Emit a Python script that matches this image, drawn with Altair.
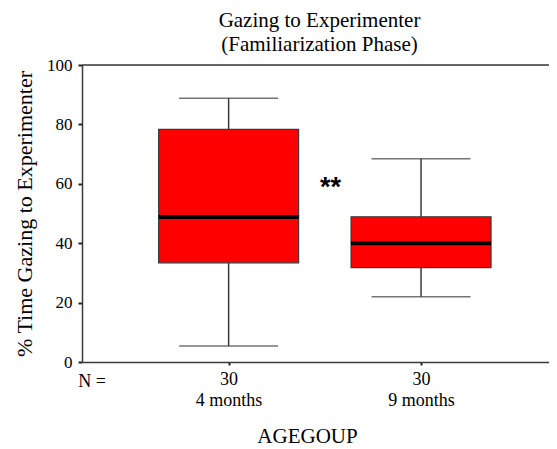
import altair as alt
import pandas as pd

# ---- data ----
groups = ["4 months", "9 months"]
group_pos = [1, 2]
n_counts = [30, 30]
mins = [5.4, 22.0]
q1s = [33.4, 31.8]
medians = [48.8, 40.0]
q3s = [78.3, 48.9]
maxs = [88.8, 68.4]
y_ticks = [0, 20, 40, 60, 80, 100]

sig_label = ["**"]
sig_x = [1.53]
sig_y = [56]
n_label = ["N ="]
n_x = [0.29]
n_y = [-6.7]

df = pd.DataFrame({
    "group": groups, "pos": group_pos, "n": n_counts,
    "lo": mins, "q1": q1s, "med": medians, "q3": q3s, "hi": maxs,
})
top_df = pd.DataFrame({"top": [y_ticks[-1]]})
sig_df = pd.DataFrame({"x": sig_x, "y": sig_y, "t": sig_label})
n_df = pd.DataFrame({"x": n_x, "y": n_y, "t": n_label})

SERIF = "Liberation Serif"
LINE = "#3a3a3a"
X_DOMAIN = [0.264, 2.639]

xs = alt.Scale(domain=X_DOMAIN, nice=False, zero=False)
ys = alt.Scale(domain=[0, 100], nice=False, zero=False)

lab_arr = "[" + ",".join(
    "['%d','%s']" % (n, g) for n, g in zip(n_counts, groups)
) + "]"
label_expr = lab_arr + "[datum.value - 1]"

x_axis = alt.Axis(
    values=group_pos, labelExpr=label_expr, labelLineHeight=21,
    labelFont=SERIF, labelFontSize=18, labelColor="black", labelPadding=5,
    tickSize=3, tickWidth=2, tickColor="#222",
    domainColor=LINE, domainWidth=1.5, grid=False,
    title="AGEGOUP", titleFont=SERIF, titleFontSize=21, titleFontWeight="normal",
    titleColor="black", titleX=225, titleY=80, titleBaseline="alphabetic",
    titleAnchor="middle",
)
y_axis = alt.Axis(
    values=y_ticks, labelFont=SERIF, labelFontSize=17, labelColor="black",
    labelPadding=6, tickSize=4, tickWidth=2, tickColor="#222",
    domainColor=LINE, domainWidth=1.5, grid=False,
    titleFont=SERIF, titleFontSize=22, titleFontWeight="normal",
    titleColor="black", titlePadding=10,
)
YT = "% Time Gazing to Experimenter"


def X(field):
    return alt.X(field, type="quantitative", scale=xs, axis=x_axis, title="AGEGOUP")


def Y(field):
    return alt.Y(field, type="quantitative", scale=ys, axis=y_axis, title=YT)


base = alt.Chart(df)

top_rule = alt.Chart(top_df).mark_rule(color=LINE, strokeWidth=1.5).encode(y=Y("top"))
low_whisk = base.mark_rule(color=LINE, strokeWidth=1.5).encode(x=X("pos"), y=Y("lo"), y2="q1:Q")
up_whisk = base.mark_rule(color=LINE, strokeWidth=1.5).encode(x=X("pos"), y=Y("q3"), y2="hi:Q")
low_cap = base.mark_tick(orient="horizontal", size=99, thickness=1.5, color=LINE).encode(x=X("pos"), y=Y("lo"))
up_cap = base.mark_tick(orient="horizontal", size=99, thickness=1.5, color=LINE).encode(x=X("pos"), y=Y("hi"))
box = base.mark_bar(size=140, color="#ff0000", stroke=LINE, strokeWidth=1.2).encode(
    x=X("pos"), y=Y("q1"), y2="q3:Q")
med = base.mark_tick(orient="horizontal", size=140, thickness=4, color="black", opacity=1).encode(
    x=X("pos"), y=Y("med"))
sig = alt.Chart(sig_df).mark_text(
    font="Liberation Sans", fontWeight="bold", fontSize=27, baseline="alphabetic",
    align="center", color="black").encode(x=X("x"), y=Y("y"), text="t:N")
nlab = alt.Chart(n_df).mark_text(
    font=SERIF, fontSize=18, baseline="middle", align="center", color="black",
    clip=False).encode(x=X("x"), y=Y("y"), text="t:N")

chart = alt.layer(top_rule, low_whisk, up_whisk, low_cap, up_cap, box, med, sig, nlab).properties(
    width=467, height=297,
    padding={"left": 74, "top": 57, "right": 0, "bottom": 86},
    autosize=alt.AutoSizeParams(type="none"),
    title=alt.TitleParams(
        ["Gazing to Experimenter", "(Familiarization Phase)"],
        font=SERIF, fontSize=21, fontWeight="normal", color="black",
        anchor="middle", lineHeight=24, offset=1, frame="group", dx=4,
    ),
).configure_view(stroke=None).configure(background="white")

chart.save("out.html", embed_options={"renderer": "svg", "actions": False})
